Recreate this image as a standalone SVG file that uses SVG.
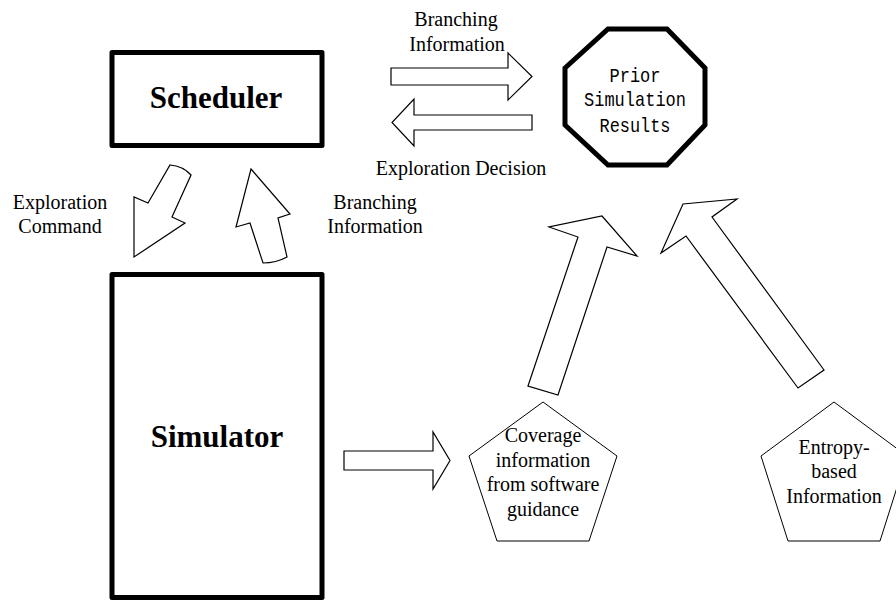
<svg xmlns="http://www.w3.org/2000/svg" width="896" height="601" viewBox="0 0 896 601">
<style>
.box{fill:#fff;stroke:#000;stroke-width:5;stroke-linejoin:round}
.oct{fill:#fff;stroke:#000;stroke-width:5;stroke-linejoin:miter}
.pent{fill:#fff;stroke:#000;stroke-width:1}
.arr{fill:#fff;stroke:#000;stroke-width:1.2;stroke-linejoin:miter}
.lbl{font-family:"Liberation Serif","Times New Roman",serif;font-size:20px;fill:#000;text-anchor:middle}
.big{font-family:"Liberation Serif","Times New Roman",serif;font-size:31px;font-weight:bold;fill:#000;text-anchor:middle}
.mono{font-family:"Liberation Mono","Courier New",monospace;font-size:21px;fill:#000;text-anchor:middle}
</style>
<rect width="896" height="601" fill="#fff"/>
<g id="connectors">
<polygon class="arr" points="391,68 508,68 508,53 532,76.5 508,100 508,85 391,85"/>
<polygon class="arr" points="532,115 414,115 414,99 392,122.5 414,146 414,130 532,130"/>
<path class="arr" d="M170,165 Q183,166 191,175 L172,217 L185,223 L134,257 L134,197 L148,203 Z"/>
<path class="arr" d="M251,169 L290,214 L278,218 L287,257 Q276,263 263,263 L250,223 L236,227 Z"/>
<polygon class="arr" points="344,451 433,451 433,432 450,460.5 433,489 433,470 344,470"/>
<polygon class="arr" points="528,386 578,237 549,227 602,216 637,256 607,247 558,395"/>
<polygon class="arr" points="798,388 686,236 661,253 683,204 737,199 712,217 824,370"/>
<text class="lbl" x="456" y="26">Branching</text>
<text class="lbl" x="457" y="51">Information</text>
<text class="lbl" x="461" y="175">Exploration Decision</text>
<text class="lbl" x="60" y="209">Exploration</text>
<text class="lbl" x="60" y="233">Command</text>
<text class="lbl" x="375" y="209">Branching</text>
<text class="lbl" x="375" y="233">Information</text>
</g>
<g id="scheduler">
<rect class="box" x="112" y="52.5" width="210" height="93"/>
<text class="big" x="216" y="108">Scheduler</text>
</g>
<g id="simulator">
<rect class="box" x="112" y="274.5" width="210" height="323"/>
<text class="big" x="217" y="447">Simulator</text>
</g>
<g id="prior">
<polygon class="oct" points="608,29 667,29 705,68 705,125 667,165 608,165 565,125 565,68"/>
<text class="mono" x="635" y="82" textLength="51" lengthAdjust="spacingAndGlyphs">Prior</text>
<text class="mono" x="635" y="106" textLength="102" lengthAdjust="spacingAndGlyphs">Simulation</text>
<text class="mono" x="635" y="132" textLength="71" lengthAdjust="spacingAndGlyphs">Results</text>
</g>
<g id="coverage">
<polygon class="pent" points="543,402 617,456 589,541 497,541 469,456"/>
<text class="lbl" x="543" y="442">Coverage</text>
<text class="lbl" x="543" y="466.5">information</text>
<text class="lbl" x="543" y="491">from software</text>
<text class="lbl" x="543" y="515.5">guidance</text>
</g>
<g id="entropy">
<polygon class="pent" points="834,402 907,456 880,541 788,541 761,456"/>
<text class="lbl" x="834" y="454">Entropy-</text>
<text class="lbl" x="834" y="478">based</text>
<text class="lbl" x="834" y="503">Information</text>
</g>
</svg>
